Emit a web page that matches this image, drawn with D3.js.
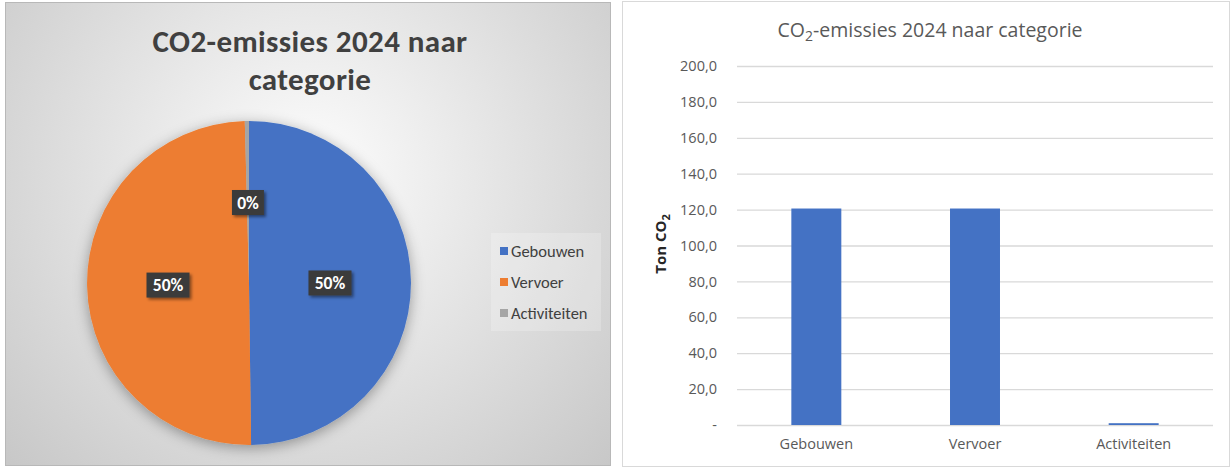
<!DOCTYPE html>
<html>
<head>
<meta charset="utf-8">
<script src="https://cdn.jsdelivr.net/npm/d3@7/dist/d3.min.js"></script>
<style>
  html, body { margin: 0; padding: 0; background: #ffffff; }
  svg { display: block; }
  text { font-family: Carlito, Calibri, Lato, "Open Sans", sans-serif; }
  .r text { font-family: "Open Sans", "Segoe UI", sans-serif; }
</style>
</head>
<body>
<svg id="chart" width="1230" height="468"></svg>
<script>
// ---- data ----
const categories = ["Gebouwen", "Vervoer", "Activiteiten"];
const values = [120.6, 120.6, 1.0];           // Ton CO2
const colors = ["#4472C4", "#ED7D31", "#A5A5A5"];
const yTicks = [0, 20, 40, 60, 80, 100, 120, 140, 160, 180, 200];
const pieTitleLines = ["CO2-emissies 2024 naar", "categorie"];
const barTitleParts = ["CO", "2", "-emissies 2024 naar categorie"];
const yAxisTitleParts = ["Ton CO", "2"];

const svg = d3.select("#chart");
const defs = svg.append("defs");

// ---------- LEFT: pie chart ----------
const bg = defs.append("radialGradient").attr("id", "bgGrad")
  .attr("gradientUnits", "userSpaceOnUse")
  .attr("cx", 310).attr("cy", 175).attr("r", 430);
bg.append("stop").attr("offset", "0").attr("stop-color", "#fdfdfd");
bg.append("stop").attr("offset", "1").attr("stop-color", "#c6c6c6");

const shadow = defs.append("filter").attr("id", "pieShadow")
  .attr("x", "-20%").attr("y", "-20%").attr("width", "140%").attr("height", "140%");
shadow.append("feDropShadow").attr("dx", 0).attr("dy", 3).attr("stdDeviation", 7)
  .attr("flood-color", "#000").attr("flood-opacity", 0.35);

const lblShadow = defs.append("filter").attr("id", "lblShadow")
  .attr("x", "-30%").attr("y", "-30%").attr("width", "170%").attr("height", "170%");
lblShadow.append("feDropShadow").attr("dx", 2).attr("dy", 2).attr("stdDeviation", 1.5)
  .attr("flood-color", "#000").attr("flood-opacity", 0.45);

svg.append("rect").attr("x", 5.5).attr("y", 2.5).attr("width", 605).attr("height", 463)
  .attr("fill", "url(#bgGrad)").attr("stroke", "#b8b8b8").attr("stroke-width", 1);

const left = svg.append("g");
left.selectAll("text.ptitle").data(pieTitleLines).join("text")
  .attr("class", "ptitle")
  .attr("x", 310).attr("y", (d, i) => 52 + i * 37.5)
  .attr("text-anchor", "middle")
  .attr("font-size", 31).attr("font-weight", "bold").attr("fill", "#404040")
  .attr("letter-spacing", 0.4)
  .text(d => d);

const cx = 249, cy = 283, R = 162;
const pie = d3.pie().sort(null).value(d => d.v);
const arcs = pie(categories.map((c, i) => ({ c, v: values[i], col: colors[i] })));
const arc = d3.arc().innerRadius(0).outerRadius(R);
const labelArc = d3.arc().innerRadius(R * 0.5).outerRadius(R * 0.5);
const total = d3.sum(values);

const pg = left.append("g").attr("transform", `translate(${cx},${cy})`);
pg.append("g").attr("filter", "url(#pieShadow)")
  .selectAll("path").data(arcs).join("path")
  .attr("d", arc).attr("fill", d => d.data.col);

const lg = pg.selectAll("g.lbl").data(arcs).join("g").attr("class", "lbl")
  .attr("transform", d => `translate(${labelArc.centroid(d)})`);
lg.each(function (d) {
  const g = d3.select(this);
  const txt = Math.round(d.data.v / total * 100) + "%";
  const w = txt.length > 2 ? 43 : 32;
  g.append("rect").attr("x", -w / 2).attr("y", -12).attr("width", w).attr("height", 25)
    .attr("fill", "#3b3b3b").attr("filter", "url(#lblShadow)");
  g.append("text").attr("text-anchor", "middle").attr("y", 6.5)
    .attr("font-size", 17.5).attr("font-weight", "bold").attr("fill", "#ffffff").text(txt);
});

// legend
const leg = left.append("g");
leg.append("rect").attr("x", 491).attr("y", 233).attr("width", 110).attr("height", 98)
  .attr("fill", "#ffffff").attr("fill-opacity", 0.22);
const li = leg.selectAll("g.li").data(categories).join("g").attr("class", "li")
  .attr("transform", (d, i) => `translate(500,${251 + i * 31})`);
li.append("rect").attr("x", 0).attr("y", -4).attr("width", 8).attr("height", 8)
  .attr("fill", (d, i) => colors[i]);
li.append("text").attr("x", 11).attr("y", 5.5).attr("font-size", 16.5)
  .attr("fill", "#404040").text(d => d);

// ---------- RIGHT: bar chart ----------
svg.append("rect").attr("x", 622.5).attr("y", 1.5).attr("width", 607).attr("height", 465)
  .attr("fill", "#ffffff").attr("stroke", "#d9d9d9").attr("stroke-width", 1);

const x = d3.scaleBand().domain(categories).range([737, 1213])
  .paddingInner(0.685).paddingOuter(0.3425);
const y = d3.scaleLinear().domain([0, 200]).range([425, 66]);

const right = svg.append("g").attr("class", "r");
const yAxis = d3.axisLeft(y).tickValues(yTicks)
  .tickSize(-(1213 - 737)).tickPadding(20)
  .tickFormat(d => d === 0 ? "-" : d3.format(".1f")(d).replace(".", ","));
const ya = right.append("g").attr("transform", "translate(737,0)").call(yAxis);
ya.select(".domain").remove();
ya.selectAll(".tick line").attr("stroke", "#d9d9d9").attr("stroke-width", 1.3);
ya.selectAll(".tick text").attr("fill", "#595959").attr("font-size", 14.5)
  .attr("font-family", "'Open Sans', sans-serif");

right.selectAll("rect.bar").data(categories).join("rect").attr("class", "bar")
  .attr("x", d => x(d)).attr("width", x.bandwidth())
  .attr("y", (d, i) => y(values[i])).attr("height", (d, i) => y(0) - y(values[i]))
  .attr("fill", colors[0]);

const xAxis = d3.axisBottom(x).tickSize(0).tickPadding(14);
const xa = right.append("g").attr("transform", "translate(0,425)").call(xAxis);
xa.select(".domain").remove();
xa.selectAll(".tick text").attr("fill", "#595959").attr("font-size", 14.5)
  .attr("font-family", "'Open Sans', sans-serif");

// title with subscript
const t = right.append("text").attr("x", 930).attr("y", 37).attr("text-anchor", "middle")
  .attr("font-size", 19.5).attr("fill", "#595959");
t.append("tspan").text(barTitleParts[0]);
t.append("tspan").attr("font-size", 14).attr("dy", 4).text(barTitleParts[1]);
t.append("tspan").attr("dy", -4).text(barTitleParts[2]);

// y-axis title
const yt = right.append("text").attr("transform", "translate(666,244) rotate(-90)")
  .attr("text-anchor", "middle").attr("font-size", 15).attr("font-weight", "bold").attr("fill", "#262626");
yt.append("tspan").text(yAxisTitleParts[0]);
yt.append("tspan").attr("font-size", 11).attr("dy", 4).text(yAxisTitleParts[1]);
</script>
</body>
</html>
